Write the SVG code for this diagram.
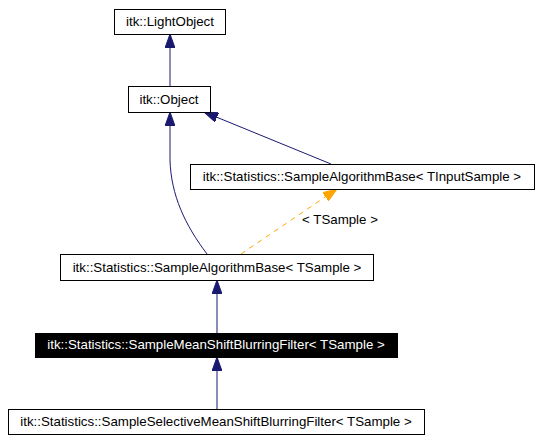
<svg xmlns="http://www.w3.org/2000/svg" width="542" height="442" viewBox="0 0 542 442">
<style>
.box{fill:#fff;stroke:#000;stroke-width:1}
.sel{fill:#000;stroke:#000;stroke-width:1}
text{font-family:"Liberation Sans",Arial,sans-serif;font-size:13.3px;text-anchor:middle;fill:#000}
.w{fill:#fff}
.e{fill:none;stroke:#191970;stroke-width:1}
.t{fill:none;stroke:#ffa500;stroke-width:1;stroke-dasharray:5,5}
</style>
<defs>
<marker id="ah" viewBox="0 0 14 10" refX="14" refY="5" markerWidth="14" markerHeight="10" markerUnits="userSpaceOnUse" orient="auto">
<path d="M0,0 L14,5 L0,10 z" fill="#191970" stroke="#191970"/>
</marker>
<marker id="ao" viewBox="0 0 14 10" refX="14" refY="5" markerWidth="14" markerHeight="10" markerUnits="userSpaceOnUse" orient="auto">
<path d="M0,0 L14,5 L0,10 z" fill="#ffa500" stroke="#ffa500"/>
</marker>
</defs>
<rect width="542" height="442" fill="#fff"/>
<g id="edges">
<path class="e" d="M170,86 L170,34" marker-end="url(#ah)"/>
<path class="e" d="M331,164 L204,112" marker-end="url(#ah)"/>
<path class="e" d="M207,254 C185,225 171,195 170,160 L170,112" marker-end="url(#ah)"/>
<path class="t" d="M241,254 L337,189" marker-end="url(#ao)"/>
<text x="340" y="224">&lt; TSample &gt;</text>
<path class="e" d="M217,333 L217,280" marker-end="url(#ah)"/>
<path class="e" d="M217,409 L217,357" marker-end="url(#ah)"/>
</g>
<g id="n_lightobject">
<rect class="box" x="114.5" y="9.5" width="111" height="25"/>
<text x="170" y="26">itk::LightObject</text>
</g>
<g id="n_object">
<rect class="box" x="128.5" y="86.5" width="82" height="26"/>
<text x="169" y="104">itk::Object</text>
</g>
<g id="n_inputsample">
<rect class="box" x="190.5" y="164.5" width="344" height="25"/>
<text x="362" y="181">itk::Statistics::SampleAlgorithmBase&lt; TInputSample &gt;</text>
</g>
<g id="n_tsample">
<rect class="box" x="60.5" y="254.5" width="313" height="26"/>
<text x="217" y="272">itk::Statistics::SampleAlgorithmBase&lt; TSample &gt;</text>
</g>
<g id="n_meanshift">
<rect class="sel" x="35.5" y="333.5" width="362" height="24"/>
<text class="w" x="216" y="349">itk::Statistics::SampleMeanShiftBlurringFilter&lt; TSample &gt;</text>
</g>
<g id="n_selective">
<rect class="box" x="8.5" y="409.5" width="416" height="25"/>
<text x="216" y="426">itk::Statistics::SampleSelectiveMeanShiftBlurringFilter&lt; TSample &gt;</text>
</g>
</svg>
